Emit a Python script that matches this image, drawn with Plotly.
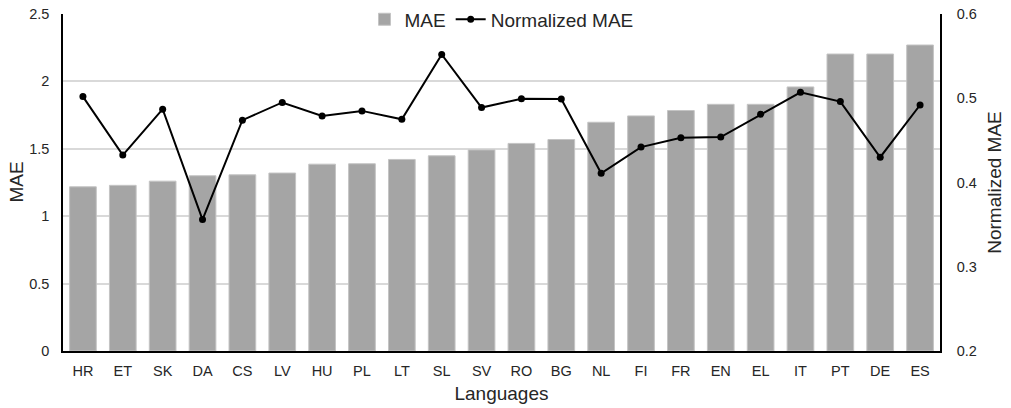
import plotly.graph_objects as go

languages = ["HR", "ET", "SK", "DA", "CS", "LV", "HU", "PL", "LT", "SL", "SV",
             "RO", "BG", "NL", "FI", "FR", "EN", "EL", "IT", "PT", "DE", "ES"]
mae = [1.218, 1.229, 1.26, 1.30, 1.307, 1.32, 1.386, 1.389, 1.421, 1.448, 1.492,
       1.54, 1.569, 1.697, 1.744, 1.784, 1.83, 1.83, 1.959, 2.203, 2.203, 2.27]
norm_mae = [0.502, 0.4325, 0.487, 0.356, 0.474, 0.495, 0.479, 0.485, 0.475, 0.552, 0.489,
            0.4995, 0.499, 0.411, 0.442, 0.453, 0.454, 0.481, 0.507, 0.496, 0.430, 0.492]

FONT = "Liberation Sans, Arial, sans-serif"

fig = go.Figure()
fig.add_trace(go.Bar(
    x=languages, y=mae, name="MAE",
    marker=dict(color="#a5a5a5", line=dict(color="#c4c4c4", width=1)),
    yaxis="y",
))
fig.add_trace(go.Scatter(
    x=languages, y=norm_mae, name="Normalized MAE",
    mode="lines+markers",
    line=dict(color="black", width=2),
    marker=dict(color="black", size=7),
    yaxis="y2",
))

fig.update_layout(
    width=1011, height=408,
    margin=dict(l=63, r=71, t=14, b=57, autoexpand=False),
    paper_bgcolor="white", plot_bgcolor="white",
    font=dict(family=FONT, color="#262626", size=14.5),
    bargap=0.33,
    showlegend=True,
    legend=dict(orientation="h", x=0.5, xanchor="center", y=0.984, yanchor="middle",
                bgcolor="white", font=dict(size=19, color="#262626"),
                traceorder="normal", itemwidth=30,
                tracegroupgap=0),
    xaxis=dict(
        title=dict(text="Languages", font=dict(size=19), standoff=9),
        range=[-0.5, len(languages) - 0.5],
        showline=True, linecolor="black", linewidth=1.5,
        ticks="", tickfont=dict(size=14.5), ticklabelstandoff=6,
        showgrid=False, automargin=False,
    ),
    yaxis=dict(
        range=[0, 2.5], dtick=0.5, tickformat="~g",
        showline=True, linecolor="black", linewidth=1.5,
        gridcolor="#d9d9d9", gridwidth=1.5, zeroline=False,
        ticks="", tickfont=dict(size=14.5), ticklabelstandoff=9,
        automargin=False,
    ),
    yaxis2=dict(
        title=dict(text="Normalized MAE", font=dict(size=19), standoff=12),
        range=[0.2, 0.6], dtick=0.1, tickformat=".1f",
        overlaying="y", side="right",
        showline=True, linecolor="black", linewidth=1.5,
        showgrid=False, zeroline=False,
        ticks="", tickfont=dict(size=14.5), ticklabelstandoff=12,
        automargin=False,
    ),
    annotations=[dict(
        text="MAE", textangle=-90, font=dict(size=19, color="#262626"),
        xref="paper", yref="paper", x=0, y=0.5, xanchor="center", yanchor="middle",
        xshift=-47, showarrow=False,
    )],
)

# remove the browser's default 8px page margin so the figure fills the window
fig.write_html("out.html", config={"displayModeBar": False},
               post_script="document.body.style.margin='0px';")
